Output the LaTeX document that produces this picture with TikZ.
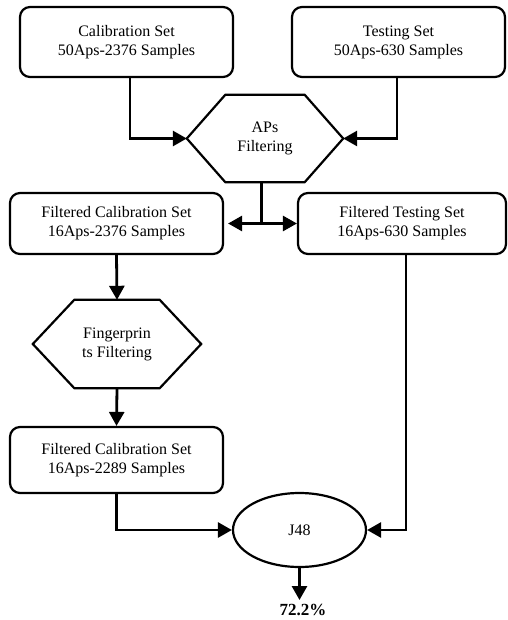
\documentclass[tikz,border=0pt]{standalone}
\usepackage{fontspec}
\setmainfont{Liberation Serif}
\usetikzlibrary{arrows.meta,shapes.geometric}
\begin{document}
\begin{tikzpicture}[x=1pt,y=-1pt,
  box/.style={draw,line width=2.2pt,rounded corners=10pt,minimum width=213pt,align=center,inner sep=0pt,font=\fontsize{16}{19}\selectfont},
  hexa/.style={inner sep=0pt,align=center,font=\fontsize{16}{19}\selectfont},
  conn/.style={line width=2.8pt,-{Triangle[length=14pt,width=15pt]}},
  plain/.style={line width=2.8pt}]
\useasboundingbox (0,0) rectangle (507,620);
\node[box,minimum height=70pt] (b1) at (126.5,42) {Calibration Set\\50Aps-2376 Samples};
\node[box,minimum height=70pt] (b2) at (398.5,42) {Testing Set\\50Aps-630 Samples};
\node[hexa,minimum width=156pt,minimum height=87pt] (h1) at (265,138.5) {APs\\Filtering};
\draw[line width=2.2pt,line join=miter] (h1.west) -- ([xshift=38.5pt]h1.north west) -- ([xshift=-38.5pt]h1.north east) -- (h1.east) -- ([xshift=-38.5pt]h1.south east) -- ([xshift=38.5pt]h1.south west) -- cycle;
\node[box,minimum height=61pt] (b3) at (116.5,223.5) {Filtered Calibration Set\\16Aps-2376 Samples};
\node[box,minimum height=61pt,minimum width=208pt] (b4) at (402,223.5) {Filtered Testing Set\\16Aps-630 Samples};
\node[hexa,minimum width=168pt,minimum height=88pt] (h2) at (117,344) {Fingerprin\\ts Filtering};
\draw[line width=2.2pt,line join=miter] (h2.west) -- ([xshift=41.5pt]h2.north west) -- ([xshift=-41.5pt]h2.north east) -- (h2.east) -- ([xshift=-41.5pt]h2.south east) -- ([xshift=41.5pt]h2.south west) -- cycle;
\node[box,minimum height=66pt] (b5) at (116.5,460) {Filtered Calibration Set\\16Aps-2289 Samples};
\node[draw,ellipse,line width=2.2pt,minimum width=133pt,minimum height=74pt,inner sep=0pt,font=\fontsize{16}{19}\selectfont] (j) at (299.5,530) {J48};
\node[font=\fontsize{17}{20}\selectfont\bfseries,inner sep=0pt,anchor=north] (res) at (303,604) {72.2\%};
\coordinate (jn) at ([xshift=-3.5pt]h1.south |- b3.east);
\coordinate (rt) at ([yshift=4pt]j.south |- res.north);
\draw[conn] ([xshift=3.5pt]b1.south) |- (h1.west);
\draw[conn] ([xshift=-1.5pt]b2.south) |- (h1.east);
\draw[plain] ([xshift=-3.5pt]h1.south) -- (jn);
\draw[conn] (jn) -- ([xshift=4pt]b3.east);
\draw[conn] (jn) -- (b4.west);
\draw[conn] (b3.south) -- (h2.north);
\draw[conn] (h2.south) -- (b5.north);
\draw[conn] (b5.south) |- (j.west);
\draw[conn] ([xshift=4pt]b4.south) |- (j.east);
\draw[conn] (j.south) -- (rt);
\end{tikzpicture}
\end{document}
